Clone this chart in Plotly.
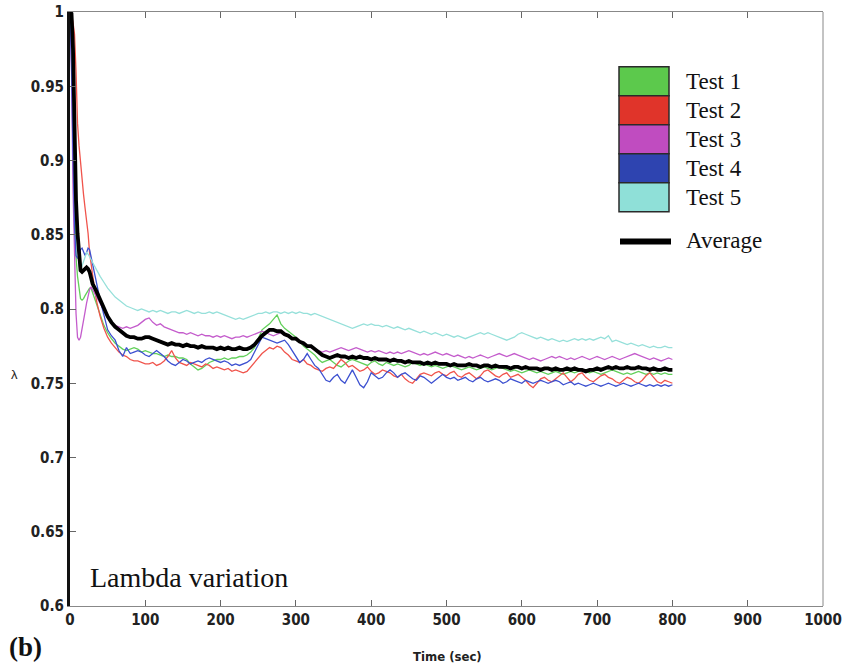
import plotly.graph_objects as go

# Sampling times (s): dense over the initial transient, then every 5 s
time_s = list(range(0, 31, 2)) + list(range(35, 801, 5))

test1 = [
    1.000, 0.975, 0.925, 0.870, 0.835, 0.822, 0.812, 0.807, 0.806, 0.807, 0.809, 0.811, 0.813, 0.814, 0.814, 0.811,
    0.803, 0.795, 0.789, 0.784, 0.780, 0.777, 0.775, 0.773, 0.772, 0.773,
    0.774, 0.773, 0.771, 0.772, 0.771, 0.770, 0.770, 0.769, 0.768, 0.769,
    0.768, 0.768, 0.767, 0.767, 0.766, 0.763, 0.761, 0.759, 0.760, 0.762,
    0.764, 0.765, 0.766, 0.766, 0.767, 0.766, 0.767, 0.767, 0.768, 0.768,
    0.769, 0.771, 0.774, 0.780, 0.786, 0.788, 0.790, 0.793, 0.796, 0.790,
    0.787, 0.785, 0.783, 0.781, 0.778, 0.775, 0.773, 0.771, 0.769, 0.766,
    0.764, 0.765, 0.766, 0.764, 0.762, 0.761, 0.763, 0.765, 0.766, 0.765,
    0.764, 0.763, 0.762, 0.764, 0.765, 0.763, 0.762, 0.764, 0.763, 0.762,
    0.763, 0.762, 0.761, 0.762, 0.764, 0.763, 0.762, 0.763, 0.762, 0.761,
    0.762, 0.761, 0.760, 0.761, 0.762, 0.761, 0.760, 0.759, 0.760, 0.761,
    0.760, 0.759, 0.760, 0.761, 0.760, 0.759, 0.760, 0.761, 0.760, 0.759,
    0.758, 0.759, 0.758, 0.757, 0.758, 0.759, 0.758, 0.757, 0.758, 0.757,
    0.756, 0.757, 0.758, 0.757, 0.756, 0.757, 0.758, 0.757, 0.758, 0.759,
    0.758, 0.757, 0.758, 0.757, 0.756, 0.757, 0.758, 0.759, 0.758, 0.757,
    0.756, 0.757, 0.756, 0.757, 0.758, 0.757, 0.756, 0.757, 0.756, 0.757,
    0.756, 0.757, 0.756, 0.756,
]

test2 = [
    1.000, 0.998, 0.993, 0.985, 0.960, 0.925, 0.910, 0.898, 0.887, 0.877, 0.868, 0.860, 0.851, 0.838, 0.830, 0.823,
    0.806, 0.795, 0.787, 0.781, 0.777, 0.774, 0.771, 0.769, 0.768, 0.766,
    0.765, 0.765, 0.764, 0.763, 0.763, 0.764, 0.762, 0.763, 0.765, 0.768,
    0.772, 0.767, 0.764, 0.763, 0.762, 0.764, 0.763, 0.762, 0.761, 0.763,
    0.762, 0.760, 0.761, 0.760, 0.759, 0.760, 0.758, 0.759, 0.758, 0.757,
    0.758, 0.761, 0.764, 0.767, 0.770, 0.772, 0.774, 0.773, 0.775, 0.774,
    0.771, 0.769, 0.766, 0.765, 0.764, 0.766, 0.763, 0.762, 0.760, 0.759,
    0.758, 0.760, 0.761, 0.760, 0.763, 0.766, 0.764, 0.761, 0.762, 0.760,
    0.758, 0.759, 0.761, 0.758, 0.756, 0.757, 0.759, 0.758, 0.757, 0.755,
    0.754, 0.756, 0.753, 0.751, 0.750, 0.753, 0.756, 0.757, 0.756, 0.755,
    0.757, 0.758, 0.756, 0.755, 0.757, 0.758, 0.755, 0.754, 0.756, 0.757,
    0.755, 0.753, 0.755, 0.758, 0.759, 0.757, 0.755, 0.754, 0.756, 0.757,
    0.754, 0.755, 0.756, 0.754, 0.752, 0.749, 0.747, 0.750, 0.753, 0.754,
    0.752, 0.751, 0.753, 0.755, 0.757, 0.754, 0.751, 0.753, 0.756, 0.757,
    0.754, 0.752, 0.751, 0.753, 0.755, 0.756, 0.754, 0.753, 0.751, 0.750,
    0.752, 0.754, 0.753, 0.751, 0.750, 0.752, 0.755, 0.757, 0.754, 0.751,
    0.750, 0.752, 0.751, 0.750,
]

test3 = [
    1.000, 0.960, 0.880, 0.830, 0.797, 0.781, 0.779, 0.781, 0.786, 0.792, 0.798, 0.804, 0.809, 0.813, 0.815, 0.813,
    0.809, 0.804, 0.799, 0.795, 0.791, 0.789, 0.788, 0.787, 0.788, 0.787,
    0.788, 0.789, 0.791, 0.793, 0.794, 0.791, 0.789, 0.790, 0.788, 0.787,
    0.786, 0.785, 0.784, 0.784, 0.783, 0.784, 0.783, 0.782, 0.783, 0.782,
    0.782, 0.781, 0.782, 0.781, 0.782, 0.781, 0.780, 0.781, 0.781, 0.782,
    0.781, 0.782, 0.783, 0.784, 0.785, 0.784, 0.783, 0.782, 0.783, 0.784,
    0.783, 0.782, 0.781, 0.780, 0.778, 0.776, 0.775, 0.774, 0.773, 0.772,
    0.771, 0.772, 0.771, 0.772, 0.773, 0.774, 0.773, 0.772, 0.773, 0.774,
    0.773, 0.772, 0.771, 0.772, 0.771, 0.772, 0.771, 0.770, 0.771, 0.770,
    0.771, 0.770, 0.771, 0.772, 0.771, 0.770, 0.769, 0.770, 0.769, 0.770,
    0.771, 0.770, 0.769, 0.770, 0.769, 0.768, 0.769, 0.768, 0.767, 0.768,
    0.767, 0.768, 0.769, 0.768, 0.767, 0.768, 0.769, 0.770, 0.769, 0.768,
    0.769, 0.770, 0.769, 0.768, 0.767, 0.766, 0.767, 0.766, 0.765, 0.766,
    0.767, 0.768, 0.767, 0.768, 0.767, 0.766, 0.767, 0.766, 0.767, 0.768,
    0.767, 0.766, 0.767, 0.768, 0.767, 0.766, 0.767, 0.768, 0.767, 0.766,
    0.767, 0.768, 0.769, 0.770, 0.769, 0.768, 0.767, 0.766, 0.767, 0.766,
    0.765, 0.766, 0.767, 0.766,
]

test4 = [
    1.000, 0.965, 0.905, 0.855, 0.836, 0.834, 0.837, 0.840, 0.841, 0.838, 0.836, 0.838, 0.841, 0.840, 0.835, 0.829,
    0.818, 0.806, 0.796, 0.786, 0.782, 0.779, 0.772, 0.768, 0.774, 0.770,
    0.771, 0.772, 0.771, 0.769, 0.768, 0.770, 0.772, 0.770, 0.768, 0.765,
    0.763, 0.762, 0.764, 0.766, 0.765, 0.763, 0.764, 0.765, 0.764, 0.766,
    0.767, 0.766, 0.765, 0.764, 0.765, 0.764, 0.762, 0.763, 0.762, 0.763,
    0.764, 0.766, 0.771, 0.777, 0.781, 0.780, 0.779, 0.778, 0.777, 0.778,
    0.779, 0.776, 0.772, 0.768, 0.764, 0.766, 0.770, 0.766, 0.762, 0.760,
    0.756, 0.752, 0.751, 0.754, 0.756, 0.752, 0.750, 0.755, 0.759, 0.754,
    0.749, 0.747, 0.751, 0.757, 0.755, 0.753, 0.754, 0.757, 0.759, 0.757,
    0.754, 0.756, 0.757, 0.755, 0.753, 0.752, 0.755, 0.754, 0.752, 0.750,
    0.752, 0.754, 0.756, 0.754, 0.753, 0.754, 0.752, 0.753, 0.754, 0.752,
    0.751, 0.753, 0.754, 0.752, 0.751, 0.752, 0.753, 0.752, 0.750, 0.751,
    0.753, 0.752, 0.751, 0.750, 0.752, 0.751, 0.750, 0.751, 0.752, 0.751,
    0.750, 0.751, 0.752, 0.751, 0.749, 0.750, 0.751, 0.749, 0.750, 0.749,
    0.748, 0.749, 0.750, 0.749, 0.748, 0.749, 0.750, 0.749, 0.748, 0.749,
    0.750, 0.749, 0.748, 0.749, 0.750, 0.749, 0.748, 0.749, 0.748, 0.749,
    0.748, 0.749, 0.748, 0.749,
]

test5 = [
    1.000, 0.990, 0.950, 0.900, 0.862, 0.840, 0.829, 0.826, 0.829, 0.833, 0.836, 0.838, 0.837, 0.835, 0.833, 0.831,
    0.827, 0.822, 0.818, 0.814, 0.811, 0.808, 0.806, 0.804, 0.802, 0.801,
    0.800, 0.799, 0.800, 0.799, 0.798, 0.799, 0.798, 0.799, 0.798, 0.797,
    0.798, 0.798, 0.797, 0.798, 0.799, 0.798, 0.797, 0.798, 0.797, 0.797,
    0.798, 0.797, 0.798, 0.797, 0.796, 0.795, 0.794, 0.793, 0.794, 0.793,
    0.794, 0.795, 0.796, 0.797, 0.797, 0.798, 0.797, 0.798, 0.798, 0.797,
    0.798, 0.797, 0.798, 0.797, 0.798, 0.797, 0.797, 0.796, 0.797, 0.796,
    0.795, 0.794, 0.793, 0.792, 0.791, 0.790, 0.789, 0.788, 0.787, 0.788,
    0.789, 0.790, 0.789, 0.790, 0.789, 0.789, 0.788, 0.789, 0.788, 0.787,
    0.788, 0.787, 0.786, 0.787, 0.786, 0.785, 0.784, 0.785, 0.784, 0.783,
    0.784, 0.783, 0.782, 0.783, 0.782, 0.781, 0.782, 0.781, 0.780, 0.781,
    0.782, 0.783, 0.784, 0.783, 0.784, 0.783, 0.782, 0.781, 0.780, 0.779,
    0.780, 0.781, 0.783, 0.784, 0.783, 0.782, 0.781, 0.780, 0.781, 0.780,
    0.779, 0.780, 0.779, 0.778, 0.779, 0.778, 0.779, 0.780, 0.779, 0.780,
    0.779, 0.780, 0.779, 0.780, 0.781, 0.780, 0.782, 0.778, 0.779, 0.778,
    0.777, 0.776, 0.777, 0.776, 0.775, 0.776, 0.775, 0.774, 0.775, 0.774,
    0.774, 0.775, 0.774, 0.774,
]

average = [
    1.000, 0.999, 0.975, 0.915, 0.873, 0.851, 0.834, 0.826, 0.825, 0.826, 0.827, 0.828, 0.827, 0.825, 0.821, 0.817,
    0.812, 0.806, 0.800, 0.795, 0.791, 0.788, 0.786, 0.784, 0.782, 0.781,
    0.781, 0.780, 0.780, 0.781, 0.781, 0.780, 0.779, 0.778, 0.777, 0.776,
    0.777, 0.776, 0.776, 0.775, 0.776, 0.775, 0.775, 0.774, 0.775, 0.774,
    0.774, 0.774, 0.773, 0.774, 0.773, 0.774, 0.773, 0.773, 0.774, 0.773,
    0.773, 0.774, 0.776, 0.779, 0.782, 0.784, 0.786, 0.786, 0.785, 0.785,
    0.783, 0.782, 0.780, 0.780, 0.778, 0.777, 0.775, 0.775, 0.773, 0.771,
    0.769, 0.768, 0.767, 0.768, 0.769, 0.768, 0.768, 0.767, 0.768, 0.767,
    0.768, 0.767, 0.767, 0.766, 0.767, 0.766, 0.766, 0.766, 0.765, 0.766,
    0.765, 0.765, 0.764, 0.765, 0.764, 0.764, 0.764, 0.763, 0.764, 0.763,
    0.764, 0.763, 0.763, 0.763, 0.762, 0.763, 0.762, 0.762, 0.762, 0.763,
    0.762, 0.762, 0.761, 0.762, 0.762, 0.761, 0.762, 0.761, 0.761, 0.761,
    0.760, 0.761, 0.761, 0.760, 0.761, 0.760, 0.760, 0.760, 0.759, 0.760,
    0.760, 0.759, 0.760, 0.759, 0.759, 0.760, 0.759, 0.760, 0.759, 0.759,
    0.758, 0.759, 0.759, 0.760, 0.759, 0.760, 0.761, 0.760, 0.761, 0.760,
    0.760, 0.761, 0.760, 0.760, 0.761, 0.760, 0.760, 0.759, 0.760, 0.759,
    0.759, 0.760, 0.759, 0.759,
]

series_names = ["Test 1", "Test 2", "Test 3", "Test 4", "Test 5"]
series_values = [test1, test2, test3, test4, test5]
line_colors = ["#62d05a", "#f0544c", "#c45ccc", "#3c50d0", "#96e0da"]
swatch_colors = ["#5cc94c", "#e0342a", "#c04cc0", "#2e44b0", "#8fe0d8"]

x_ticks = [0, 100, 200, 300, 400, 500, 600, 700, 800, 900, 1000]
y_ticks = [0.6, 0.65, 0.7, 0.75, 0.8, 0.85, 0.9, 0.95, 1.0]
y_tick_text = ["0.6", "0.65", "0.7", "0.75", "0.8", "0.85", "0.9", "0.95", "1"]

for s in series_values + [average]:
    assert len(s) == len(time_s)

W, H = 842, 666
ML, MR, MT, MB = 70, 19, 12, 60
PW, PH = W - ML - MR, H - MT - MB


def px(x):
    return (x - ML) / PW


def py(y):
    return (H - MB - y) / PH


fig = go.Figure()
for name, vals, col in zip(series_names, series_values, line_colors):
    fig.add_trace(go.Scatter(x=time_s, y=vals, mode="lines", name=name,
                             line=dict(color=col, width=1.3), showlegend=False))
fig.add_trace(go.Scatter(x=time_s, y=average, mode="lines", name="Average",
                         line=dict(color="#000000", width=3.8), showlegend=False))

tick_font = dict(family="Liberation Sans Narrow, DejaVu Sans Condensed, Liberation Sans, Arial",
                 size=15, color="#222222", weight="bold")

fig.update_layout(
    width=W, height=H,
    margin=dict(l=ML, r=MR, t=MT, b=MB, autoexpand=False),
    paper_bgcolor="white", plot_bgcolor="white",
    showlegend=False,
    xaxis=dict(range=[0, 1000], tickvals=x_ticks, ticks="inside", ticklen=6,
               tickcolor="#666666", showline=True, linecolor="#888888", linewidth=1,
               mirror="ticks", showgrid=False, zeroline=False, tickfont=tick_font,
               automargin=False),
    yaxis=dict(range=[0.6, 1.0], tickvals=y_ticks, ticktext=y_tick_text,
               ticks="inside", ticklen=6, tickcolor="#666666",
               showline=True, linecolor="#111111", linewidth=3,
               showgrid=False, zeroline=False, tickfont=tick_font,
               automargin=False),
)

shapes = [
    # right edge of the frame
    dict(type="line", xref="paper", yref="paper", x0=1, x1=1, y0=0, y1=1,
         line=dict(color="#888888", width=1)),
]
annotations = []

serif = "Liberation Serif, Times New Roman"

# legend: colour swatches for the tests, thick bar for the average
box_top, box_h = 66.7, 29.0
for i, (name, col) in enumerate(zip(series_names, swatch_colors)):
    y0 = box_top + i * box_h
    shapes.append(dict(type="rect", xref="paper", yref="paper",
                       x0=px(619), x1=px(669), y0=py(y0 + box_h), y1=py(y0),
                       fillcolor=col, line=dict(color="#2a2a2a", width=1.5)))
    annotations.append(dict(x=px(684), y=py(y0 + box_h / 2), xref="paper", yref="paper",
                            text=name, showarrow=False, xanchor="left", yanchor="middle",
                            font=dict(family=serif, size=23, color="#111111")))
shapes.append(dict(type="line", xref="paper", yref="paper",
                   x0=px(620), x1=px(671), y0=py(241.5), y1=py(241.5),
                   line=dict(color="#000000", width=6)))
annotations.append(dict(x=px(684), y=py(241), xref="paper", yref="paper",
                        text="Average", showarrow=False, xanchor="left", yanchor="middle",
                        font=dict(family=serif, size=23, color="#111111")))

annotations += [
    dict(x=px(88), y=py(577), xref="paper", yref="paper", text="Lambda variation",
         showarrow=False, xanchor="left", yanchor="middle",
         font=dict(family=serif, size=28, color="#111111")),
    dict(x=px(7), y=py(647), xref="paper", yref="paper", text="<b>(b)</b>",
         showarrow=False, xanchor="left", yanchor="middle",
         font=dict(family=serif, size=27, color="#111111")),
    dict(x=px(447), y=py(656), xref="paper", yref="paper", text="Time (sec)",
         showarrow=False, xanchor="center", yanchor="middle",
         font=dict(family="Liberation Sans Narrow, DejaVu Sans Condensed, Liberation Sans",
                   size=13, color="#222222", weight="bold")),
    dict(x=px(14), y=py(374), xref="paper", yref="paper", text="λ",
         showarrow=False, xanchor="center", yanchor="middle",
         font=dict(family="Liberation Sans, DejaVu Sans", size=13, color="#222222")),
]

fig.update_layout(shapes=shapes, annotations=annotations)
fig.write_html("out.html")
